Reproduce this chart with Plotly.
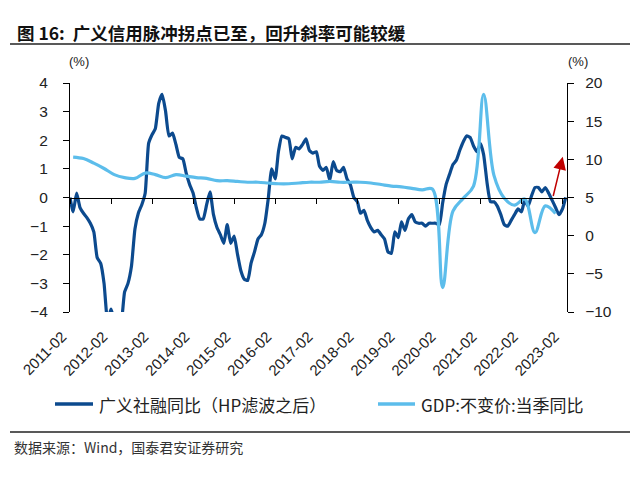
import plotly.graph_objects as go
import pandas as pd

# ---------------- data ----------------
tsf_start = "2011-02-01"          # monthly, HP-filtered broad credit YoY (left axis, %)
tsf_hp = [
    0.0, -0.5, 0.15, -0.35, -0.55, -0.7, -0.9, -1.2, -2.1, -2.3, -3.0, -4.3,      # 2011-02 .. 2012-01
    -3.9, -4.3, -4.6, -4.4, -3.3, -3.0, -2.4, -1.1, -0.55, -0.25, 0.15, 1.9,      # 2012-02 .. 2013-01
    2.2, 2.4, 3.3, 3.6, 3.0, 2.15, 2.25, 1.85, 1.4, 1.35, 0.85, 0.45,             # 2013-02 .. 2014-01
    0.15, -0.35, -0.75, -0.75, -0.25, 0.2, -0.6, -1.05, -1.3, -1.6, -0.95, -1.6,  # 2014-02 .. 2015-01
    -1.35, -1.95, -2.55, -2.85, -2.9, -2.3, -1.9, -1.45, -1.3, -0.9, -0.05, 1.0,  # 2015-02 .. 2016-01
    0.65, 1.6, 2.15, 2.1, 2.05, 1.35, 1.75, 1.7, 1.85, 2.05, 1.65, 1.55,          # 2016-02 .. 2017-01
    1.6, 1.1, 0.95, 1.05, 0.6, 1.25, 0.95, 0.9, 1.05, 0.65, 0.45, 0.0,            # 2017-02 .. 2018-01
    -0.15, -0.55, -0.45, -0.8, -1.05, -1.2, -1.15, -1.3, -1.45, -1.9, -1.95, -1.2,  # 2018-02 .. 2019-01
    -1.4, -0.85, -1.15, -0.75, -0.6, -0.85, -0.9, -0.9, -1.0, -0.9, -0.9, -0.9,   # 2019-02 .. 2020-01
    -0.95, -0.2, 0.45, 0.8, 1.15, 1.3, 1.65, 1.95, 2.15, 2.1, 1.8, 1.6,           # 2020-02 .. 2021-01
    1.88, 1.5, 0.5, -0.15, -0.15, -0.3, -0.6, -0.95, -1.0, -0.8, -0.6, -0.4,      # 2021-02 .. 2022-01
    -0.5, -0.1, -0.3, 0.05, 0.35, 0.35, 0.2, 0.35, 0.15, -0.1, -0.35, -0.6,       # 2022-02 .. 2023-01
    -0.4, 0.0,                                                                    # 2023-02 .. 2023-03
]

gdp_start = "2011-03-01"          # quarterly real GDP YoY (right axis, %)
gdp_yoy = [
    10.3, 10.1, 9.5, 8.8,
    8.0, 7.6, 7.5, 8.2,
    8.0, 7.6, 8.0, 7.8,
    7.6, 7.5, 7.2, 7.2,
    7.1, 7.0, 7.0, 6.9,
    6.8, 6.8, 6.9, 7.0,
    7.0, 7.1, 7.0, 7.0,
    7.0, 6.9, 6.7, 6.5,
    6.4, 6.2, 6.0, 6.1,
    -6.8, 3.2, 4.9, 6.5,
    18.5, 7.9, 4.9, 4.0,
    4.8, 0.4, 3.9, 2.9,
]

x_tick_labels = ["2011-02", "2012-02", "2013-02", "2014-02", "2015-02", "2016-02",
                 "2017-02", "2018-02", "2019-02", "2020-02", "2021-02", "2022-02", "2023-02"]
left_ticks = [-4, -3, -2, -1, 0, 1, 2, 3, 4]
right_ticks = [-10, -5, 0, 5, 10, 15, 20]

name_tsf = "广义社融同比（HP滤波之后）"
name_gdp = "GDP:不变价:当季同比"
title_text = "图 16:  广义信用脉冲拐点已至，回升斜率可能较缓"
source_text = "数据来源：Wind，国泰君安证券研究"

# arrow (annotation) from / to
arrow_tail = ("2022-11-07", 0.0)
arrow_head = ("2023-02-03", 1.42)

# ---------------- figure ----------------
months = pd.date_range(tsf_start, periods=len(tsf_hp), freq="MS")
quarters = pd.date_range(gdp_start, periods=len(gdp_yoy), freq="3MS")
tick_dates = [lbl + "-01" for lbl in x_tick_labels]
x_range = ["2011-02-01", "2023-03-13"]

DARK = "#0C4A8E"
LIGHT = "#5CBDEB"
CJK = "Noto Sans CJK SC"
LAT = "Liberation Sans, Arial"

# page offset (browser body margin) and plot-area geometry in screen pixels
OFF = 8
SL, SR, ST, SB = 70, 567, 83, 312          # plot area as seen on screen
W, H = 640, 478
L, R, T, B = SL - OFF, SR - OFF, ST - OFF, SB - OFF


def px(xs):
    return (xs - SL) / (SR - SL)


def py(ys):
    return (SB - ys) / (SB - ST)


fig = go.Figure()
fig.add_trace(go.Scatter(x=months, y=tsf_hp, mode="lines", name=name_tsf,
                         line=dict(color=DARK, width=3.2, shape="spline", smoothing=0.5),
                         yaxis="y", xaxis="x", showlegend=False))
fig.add_trace(go.Scatter(x=quarters, y=gdp_yoy, mode="lines", name=name_gdp,
                         line=dict(color=LIGHT, width=3.2, shape="spline", smoothing=1.0),
                         yaxis="y2", xaxis="x", showlegend=False))
# helper (empty) trace to carry the zero-line axis
fig.add_trace(go.Scatter(x=[], y=[], xaxis="x2", yaxis="y", showlegend=False, hoverinfo="skip"))

fig.update_layout(
    width=W, height=H,
    margin=dict(l=L, r=W - R, t=T, b=H - B, autoexpand=False),
    paper_bgcolor="white", plot_bgcolor="white",
    showlegend=False,
    xaxis=dict(type="date", range=x_range, tickvals=tick_dates, ticktext=x_tick_labels,
               tickangle=-45, ticks="", showline=False, showgrid=False, zeroline=False,
               automargin=False, ticklabelshift=-8, ticklabelstandoff=12,
               tickfont=dict(family=LAT, size=15, color="#222")),
    xaxis2=dict(type="date", range=x_range, overlaying="x", anchor="free", position=0.5,
                tickvals=tick_dates, ticks="outside", ticklen=5, tickcolor="black",
                showticklabels=False, showline=True, linecolor="black", linewidth=1.2,
                showgrid=False, zeroline=False, automargin=False),
    yaxis=dict(range=[-4, 4], tickvals=left_ticks, ticks="outside", ticklen=6,
               tickcolor="black", showline=True, linecolor="black", linewidth=1.2,
               showgrid=False, zeroline=False, automargin=False, ticklabelstandoff=12,
               tickfont=dict(family=LAT, size=15.5, color="#222")),
    yaxis2=dict(range=[-10, 20], tickvals=right_ticks, overlaying="y", side="right",
                ticks="outside", ticklen=6, tickcolor="black", showline=True,
                linecolor="black", linewidth=1.2, showgrid=False, zeroline=False,
                automargin=False, ticklabelstandoff=8,
                tickfont=dict(family=LAT, size=15.5, color="#222")),
)

# title, source, unit labels
fig.add_annotation(text=title_text, xref="paper", yref="paper", x=px(15), y=py(32),
                   xanchor="left", yanchor="middle", showarrow=False,
                   font=dict(family=CJK, size=17.5, color="#111", weight="bold"))
fig.add_annotation(text=source_text, xref="paper", yref="paper", x=px(12), y=py(447),
                   xanchor="left", yanchor="middle", showarrow=False,
                   font=dict(family=CJK, size=14, color="#333"))
fig.add_annotation(text="(%)", xref="paper", yref="paper", x=px(79), y=py(62),
                   xanchor="center", yanchor="middle", showarrow=False,
                   font=dict(family=LAT, size=13, color="#222"))
fig.add_annotation(text="(%)", xref="paper", yref="paper", x=px(578), y=py(62),
                   xanchor="center", yanchor="middle", showarrow=False,
                   font=dict(family=LAT, size=13, color="#222"))

# legend (drawn manually)
legend_y = py(404)
for (x0, x1, tx, color, label) in [(55, 93, 97, DARK, name_tsf), (378, 415, 419, LIGHT, name_gdp)]:
    fig.add_shape(type="line", xref="paper", yref="paper", x0=px(x0), x1=px(x1),
                  y0=legend_y, y1=legend_y, line=dict(color=color, width=3.5))
    fig.add_annotation(text=label, xref="paper", yref="paper", x=px(tx), y=legend_y,
                       xanchor="left", yanchor="middle", showarrow=False,
                       font=dict(family=CJK, size=17, color="#222"))

# red arrow
fig.add_annotation(x=arrow_head[0], y=arrow_head[1], ax=arrow_tail[0], ay=arrow_tail[1],
                   xref="x", yref="y", axref="x", ayref="y", text="", showarrow=True,
                   arrowhead=2, arrowsize=1.7, arrowwidth=1.5, arrowcolor="#C00000")

# horizontal rules
for yy in (44, 432):
    fig.add_shape(type="line", xref="paper", yref="paper", x0=px(10), x1=px(630),
                  y0=py(yy), y1=py(yy), line=dict(color="#222", width=1.5))

fig.write_html("out.html")
